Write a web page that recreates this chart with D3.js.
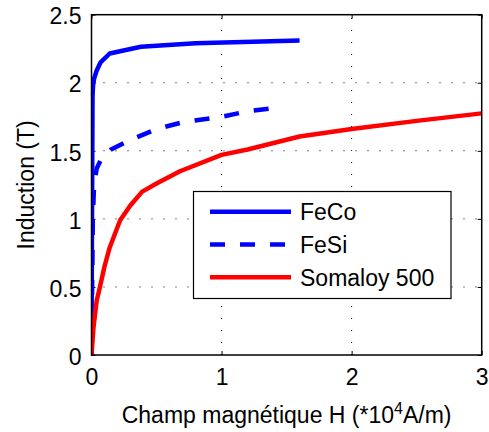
<!DOCTYPE html>
<html><head><meta charset="utf-8">
<script src="https://cdn.jsdelivr.net/npm/d3@7"></script>
<style>
html,body{margin:0;padding:0;background:#fff;}
svg{display:block;font-family:"Liberation Sans",Arial,sans-serif;}
</style></head>
<body>
<svg id="chart" width="489" height="432"></svg>
<script>
// Data (H in 10^4 A/m, B in T)
const fecoH = [0, 0.004, 0.008, 0.012, 0.02, 0.04, 0.07, 0.14, 0.38, 0.8, 1.6];
const fecoB = [0, 1.0, 1.9, 1.98, 2.03, 2.09, 2.15, 2.215, 2.265, 2.29, 2.31];
const fesiH = [0, 0.01, 0.02, 0.04, 0.08, 0.15, 0.3, 0.5, 0.7, 1.0, 1.2, 1.45];
const fesiB = [0, 1.0, 1.25, 1.37, 1.45, 1.51, 1.58, 1.66, 1.71, 1.75, 1.79, 1.82];
const somH = [0, 0.015, 0.04, 0.065, 0.1, 0.14, 0.22, 0.3, 0.39, 0.5, 0.68, 1.0, 1.2, 1.6, 2.0, 2.5, 3.0];
const somB = [0, 0.2, 0.4, 0.5, 0.65, 0.79, 0.99, 1.1, 1.2, 1.26, 1.35, 1.47, 1.51, 1.605, 1.66, 1.72, 1.775];
const seriesNames = ["FeCo", "FeSi", "Somaloy 500"];
const xTicks = [0, 1, 2, 3];
const yTicks = [0, 0.5, 1, 1.5, 2, 2.5];
const xLabel = "Champ magnétique H (*10";
const yLabel = "Induction (T)";

const svg = d3.select("#chart");
const L = 91.5, R = 481.7, T = 14.7, B = 355;
const x = d3.scaleLinear().domain([0, 3]).range([L, R]);
const y = d3.scaleLinear().domain([0, 2.5]).range([B, T]);
const FS = 23;

// grid
const grid = svg.append("g").attr("stroke", "#000").attr("stroke-width", 1)
  .attr("stroke-dasharray", "1,11");
xTicks.filter(d => d > 0 && d < 3).forEach(d => {
  grid.append("line").attr("x1", x(d)).attr("x2", x(d)).attr("y1", B).attr("y2", T);
});
yTicks.filter(d => d > 0 && d < 2.5).forEach(d => {
  grid.append("line").attr("x1", L).attr("x2", R).attr("y1", y(d)).attr("y2", y(d));
});

// axes
const fmt = d => String(d);
const ax = (g) => { g.select(".domain").remove(); g.selectAll("line").attr("stroke", "#000"); g.selectAll("text").attr("font-size", FS).attr("fill", "#000").attr("font-family", "Liberation Sans, Arial, sans-serif"); };
svg.append("g").attr("transform", `translate(0,${B})`)
  .call(d3.axisBottom(x).tickValues(xTicks).tickFormat(fmt).tickSizeInner(-4).tickSizeOuter(0).tickPadding(14)).call(ax);
svg.append("g").attr("transform", `translate(0,${T})`)
  .call(d3.axisTop(x).tickValues(xTicks).tickFormat("").tickSizeInner(-4).tickSizeOuter(0)).call(ax);
svg.append("g").attr("transform", `translate(${L},0)`)
  .call(d3.axisLeft(y).tickValues(yTicks).tickFormat(fmt).tickSizeInner(-4).tickSizeOuter(0).tickPadding(10)).call(ax)
  .selectAll("text").attr("dy", "0.4em");
svg.append("g").attr("transform", `translate(${R},0)`)
  .call(d3.axisRight(y).tickValues(yTicks).tickFormat("").tickSizeInner(-4).tickSizeOuter(0)).call(ax);

// series
const line = d3.line().x(d => x(d[0])).y(d => y(d[1]));
const clip = svg.append("clipPath").attr("id", "clip").append("rect")
  .attr("x", L).attr("y", T - 3).attr("width", R - L).attr("height", B - T + 3);
const plotG = svg.append("g").attr("clip-path", "url(#clip)");
const series = [
  {H: fecoH, B: fecoB, color: "#0000ff", dash: null},
  {H: fesiH, B: fesiB, color: "#0000ff", dash: "15,15"},
  {H: somH, B: somB, color: "#ff0000", dash: null}
];
series.forEach(s => {
  plotG.append("path").datum(s.H.map((h, i) => [h, s.B[i]]))
    .attr("d", line).attr("fill", "none").attr("stroke", s.color)
    .attr("stroke-width", 4.5).attr("stroke-linejoin", "round")
    .attr("stroke-dasharray", s.dash);
});

// box
svg.append("rect").attr("x", L).attr("y", T).attr("width", R - L).attr("height", B - T)
  .attr("fill", "none").attr("stroke", "#000").attr("stroke-width", 1.5);

// labels
const xl = svg.append("text").attr("x", (L + R) / 2).attr("y", 423).attr("text-anchor", "middle")
  .attr("font-size", FS).attr("fill", "#000");
xl.append("tspan").text(xLabel);
xl.append("tspan").attr("font-size", 16).attr("dy", -9).text("4");
xl.append("tspan").attr("dy", 9).text("A/m)");
svg.append("text").attr("transform", `translate(34,${(T + B) / 2}) rotate(-90)`)
  .attr("text-anchor", "middle").attr("font-size", FS).attr("fill", "#000").text(yLabel);

// legend
const lg = svg.append("g");
lg.append("rect").attr("x", 193.5).attr("y", 191.5).attr("width", 257.5).attr("height", 107)
  .attr("fill", "#fff").attr("stroke", "#000").attr("stroke-width", 1.2);
const ly = [211.7, 244.5, 277.3];
series.forEach((s, i) => {
  lg.append("line").attr("x1", 210).attr("x2", 291).attr("y1", ly[i]).attr("y2", ly[i])
    .attr("stroke", s.color).attr("stroke-width", 4.5).attr("stroke-dasharray", s.dash);
  lg.append("text").attr("x", 300).attr("y", ly[i]).attr("dy", "0.36em")
    .attr("font-size", FS).attr("fill", "#000").text(seriesNames[i]);
});
</script>
</body></html>
